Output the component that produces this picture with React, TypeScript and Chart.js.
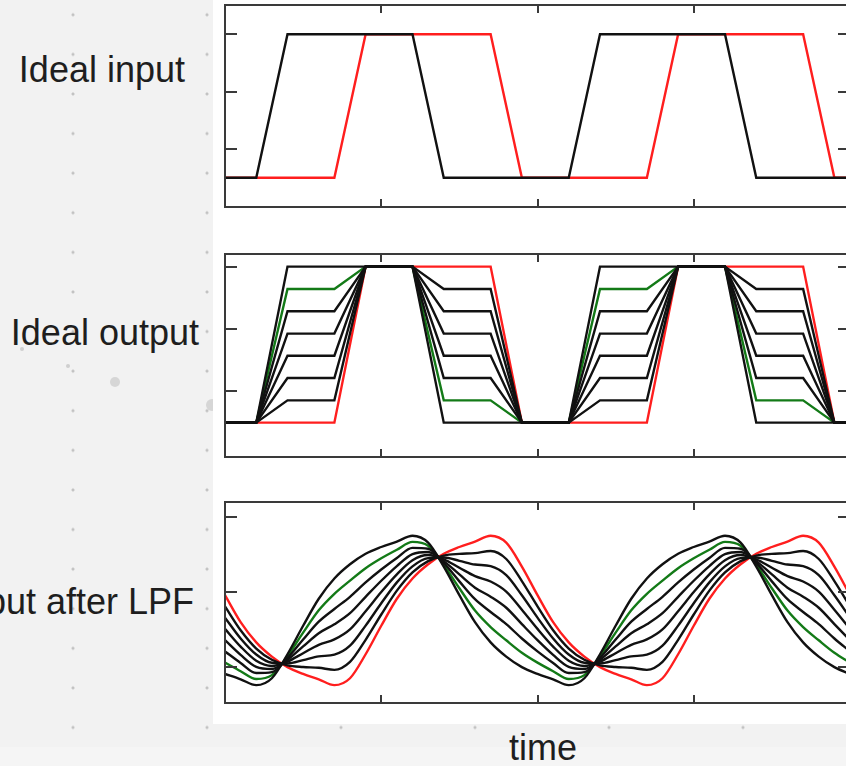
import React, { useEffect, useRef } from "react";
import { Chart, registerables } from "chart.js";
Chart.register(...registerables);

// ---------- shared axis ----------
const X_MIN = 0;
const X_MAX = 4;
const X_TICKS = [1, 2, 3];

// ---------- panel 1 : ideal input ----------
const inBlackT = [0, 0.2, 0.4, 1.2, 1.4, 2.2, 2.4, 3.2, 3.4, 4.0];
const inBlackV = [0, 0, 1, 1, 0, 0, 1, 1, 0, 0];
const inRedT = [0, 0.7, 0.9, 1.7, 1.9, 2.7, 2.9, 3.7, 3.9, 4.0];
const inRedV = [0, 0, 1, 1, 0, 0, 1, 1, 0, 0];
const P1_Y = [-0.204, 1.204];
const P1_TICKS = [0.2, 0.6, 1.0];

// ---------- panel 2 : ideal output ----------
const outT = [0, 0.2, 0.4, 0.7, 0.9, 1.2, 1.4, 1.7, 1.9, 2.2, 2.4, 2.7, 2.9, 3.2, 3.4, 3.7, 3.9, 4.0];
const out0 = [0, 0, 0, 0, 1, 1, 1, 1, 0, 0, 0, 0, 1, 1, 1, 1, 0, 0];
const out1 = [0, 0, 0.143, 0.143, 1, 1, 0.857, 0.857, 0, 0, 0.143, 0.143, 1, 1, 0.857, 0.857, 0, 0];
const out2 = [0, 0, 0.286, 0.286, 1, 1, 0.714, 0.714, 0, 0, 0.286, 0.286, 1, 1, 0.714, 0.714, 0, 0];
const out3 = [0, 0, 0.429, 0.429, 1, 1, 0.571, 0.571, 0, 0, 0.429, 0.429, 1, 1, 0.571, 0.571, 0, 0];
const out4 = [0, 0, 0.571, 0.571, 1, 1, 0.429, 0.429, 0, 0, 0.571, 0.571, 1, 1, 0.429, 0.429, 0, 0];
const out5 = [0, 0, 0.714, 0.714, 1, 1, 0.286, 0.286, 0, 0, 0.714, 0.714, 1, 1, 0.286, 0.286, 0, 0];
const out6 = [0, 0, 0.857, 0.857, 1, 1, 0.143, 0.143, 0, 0, 0.857, 0.857, 1, 1, 0.143, 0.143, 0, 0];
const out7 = [0, 0, 1, 1, 1, 1, 0, 0, 0, 0, 1, 1, 1, 1, 0, 0, 0, 0];
const P2_Y = [-0.22, 1.081];
const P2_TICKS = [0.2, 0.6, 1.0];

// ---------- panel 3 : output after LPF ----------
const lpfT = [
  0, 0.1, 0.2, 0.3, 0.4, 0.5, 0.6, 0.7, 0.8, 0.9, 1.0, 1.1, 1.2, 1.3, 1.4, 1.5, 1.6, 1.7, 1.8, 1.9,
  2.0, 2.1, 2.2, 2.3, 2.4, 2.5, 2.6, 2.7, 2.8, 2.9, 3.0, 3.1, 3.2, 3.3, 3.4, 3.5, 3.6, 3.7, 3.8, 3.9, 4.0,
];
const lpf0 = [
  0.479, 0.299, 0.164, 0.069, -0.001, -0.046, -0.082, -0.121, -0.075, 0.085, 0.275, 0.455, 0.59, 0.685, 0.755, 0.8, 0.836, 0.875, 0.829, 0.669,
  0.479, 0.299, 0.164, 0.069, -0.001, -0.046, -0.082, -0.121, -0.075, 0.085, 0.275, 0.455, 0.59, 0.685, 0.755, 0.8, 0.836, 0.875, 0.829, 0.669,
  0.479,
];
const lpf1 = [
  0.404, 0.245, 0.123, 0.048, 0.011, 0.0, -0.005, -0.019, 0.034, 0.181, 0.35, 0.509, 0.631, 0.706, 0.743, 0.754, 0.759, 0.773, 0.72, 0.573,
  0.404, 0.245, 0.123, 0.048, 0.011, 0.0, -0.005, -0.019, 0.034, 0.181, 0.35, 0.509, 0.631, 0.706, 0.743, 0.754, 0.759, 0.773, 0.72, 0.573,
  0.404,
];
const lpf2 = [
  0.329, 0.19, 0.083, 0.028, 0.024, 0.046, 0.071, 0.082, 0.142, 0.276, 0.425, 0.564, 0.671, 0.726, 0.73, 0.708, 0.683, 0.672, 0.612, 0.478,
  0.329, 0.19, 0.083, 0.028, 0.024, 0.046, 0.071, 0.082, 0.142, 0.276, 0.425, 0.564, 0.671, 0.726, 0.73, 0.708, 0.683, 0.672, 0.612, 0.478,
  0.329,
];
const lpf3 = [
  0.254, 0.136, 0.042, 0.007, 0.036, 0.092, 0.148, 0.184, 0.251, 0.372, 0.5, 0.618, 0.712, 0.747, 0.718, 0.662, 0.606, 0.57, 0.503, 0.382,
  0.254, 0.136, 0.042, 0.007, 0.036, 0.092, 0.148, 0.184, 0.251, 0.372, 0.5, 0.618, 0.712, 0.747, 0.718, 0.662, 0.606, 0.57, 0.503, 0.382,
  0.254,
];
const lpf4 = [
  0.179, 0.081, 0.001, -0.013, 0.048, 0.137, 0.225, 0.285, 0.359, 0.468, 0.575, 0.673, 0.753, 0.767, 0.706, 0.617, 0.529, 0.469, 0.395, 0.286,
  0.179, 0.081, 0.001, -0.013, 0.048, 0.137, 0.225, 0.285, 0.359, 0.468, 0.575, 0.673, 0.753, 0.767, 0.706, 0.617, 0.529, 0.469, 0.395, 0.286,
  0.179,
];
const lpf5 = [
  0.104, 0.027, -0.04, -0.034, 0.06, 0.183, 0.302, 0.387, 0.468, 0.564, 0.65, 0.727, 0.794, 0.788, 0.694, 0.571, 0.452, 0.367, 0.286, 0.19,
  0.104, 0.027, -0.04, -0.034, 0.06, 0.183, 0.302, 0.387, 0.468, 0.564, 0.65, 0.727, 0.794, 0.788, 0.694, 0.571, 0.452, 0.367, 0.286, 0.19,
  0.104,
];
const lpf6 = [
  0.029, -0.028, -0.08, -0.054, 0.073, 0.229, 0.378, 0.488, 0.576, 0.659, 0.725, 0.782, 0.834, 0.808, 0.681, 0.525, 0.376, 0.266, 0.178, 0.095,
  0.029, -0.028, -0.08, -0.054, 0.073, 0.229, 0.378, 0.488, 0.576, 0.659, 0.725, 0.782, 0.834, 0.808, 0.681, 0.525, 0.376, 0.266, 0.178, 0.095,
  0.029,
];
const lpf7 = [
  -0.046, -0.082, -0.121, -0.075, 0.085, 0.275, 0.455, 0.59, 0.685, 0.755, 0.8, 0.836, 0.875, 0.829, 0.669, 0.479, 0.299, 0.164, 0.069, -0.001,
  -0.046, -0.082, -0.121, -0.075, 0.085, 0.275, 0.455, 0.59, 0.685, 0.755, 0.8, 0.836, 0.875, 0.829, 0.669, 0.479, 0.299, 0.164, 0.069, -0.001,
  -0.046,
];
const P3_Y = [-0.24, 1.1];
const P3_TICKS = [0, 0.5, 1.0];

// ---------- labels ----------
const panelLabels = ["Ideal input", "Ideal output", "Output after LPF"];
const xLabel = "time";

const BLACK = "#111111";
const RED = "#ff1e1e";
const GREEN = "#137a17";

function ds(t: number[], v: number[], color: string, smooth = false) {
  return {
    data: t.map((x, i) => ({ x, y: v[i] })),
    borderColor: color,
    borderWidth: 2.4,
    pointRadius: 0,
    fill: false,
    tension: 0,
    cubicInterpolationMode: smooth ? ("monotone" as const) : ("default" as const),
  };
}

const framePlugin = {
  id: "frame",
  afterDraw(chart: any, _args: any, opts: any) {
    const { ctx, chartArea: a, scales } = chart;
    const xs = scales.x;
    const ys = scales.y;
    ctx.save();
    ctx.strokeStyle = "#3a3a3a";
    ctx.lineWidth = 2;
    ctx.strokeRect(a.left, a.top, a.right - a.left, a.bottom - a.top);
    ctx.beginPath();
    for (const t of X_TICKS) {
      const px = Math.round(xs.getPixelForValue(t));
      ctx.moveTo(px, a.top);
      ctx.lineTo(px, a.top + 8);
      ctx.moveTo(px, a.bottom);
      ctx.lineTo(px, a.bottom - 8);
    }
    for (const v of opts.yTicks as number[]) {
      const py = Math.round(ys.getPixelForValue(v));
      ctx.moveTo(a.left, py);
      ctx.lineTo(a.left + 12, py);
      ctx.moveTo(a.right, py);
      ctx.lineTo(a.right - 12, py);
    }
    ctx.stroke();
    ctx.restore();
  },
};

type PanelProps = {
  top: number;
  height: number;
  datasets: any[];
  yRange: number[];
  yTicks: number[];
};

const CANVAS_LEFT = 219;
const CANVAS_W = 637;

function Panel({ top, height, datasets, yRange, yTicks }: PanelProps) {
  const ref = useRef<HTMLCanvasElement>(null);
  useEffect(() => {
    const chart = new Chart(ref.current as HTMLCanvasElement, {
      type: "line",
      data: { datasets },
      options: {
        animation: false,
        responsive: false,
        maintainAspectRatio: false,
        devicePixelRatio: 1,
        layout: { padding: { left: 6, right: 6, top: 5, bottom: 5 } },
        plugins: {
          legend: { display: false },
          tooltip: { enabled: false },
          frame: { yTicks },
        } as any,
        scales: {
          x: { type: "linear", min: X_MIN, max: X_MAX, display: false },
          y: { type: "linear", min: yRange[0], max: yRange[1], display: false },
        },
      },
      plugins: [framePlugin as any],
    });
    return () => chart.destroy();
  }, []);
  return (
    <canvas
      ref={ref}
      width={CANVAS_W}
      height={height}
      style={{ position: "absolute", left: CANVAS_LEFT, top, width: CANVAS_W, height }}
    />
  );
}

const FONT = "'Liberation Sans', Arial, Helvetica, sans-serif";
const LABEL_SIZE = 36;

function Label({ text, right, baseline }: { text: string; right: number; baseline: number }) {
  return (
    <div
      style={{
        position: "absolute",
        right: 846 - right,
        top: baseline - 0.8465 * LABEL_SIZE,
        fontFamily: FONT,
        fontSize: LABEL_SIZE,
        lineHeight: 1,
        color: "#1e1e1e",
        whiteSpace: "nowrap",
      }}
    >
      {text}
    </div>
  );
}

function Blob({ x, y, r, c = "#d6d6d6" }: { x: number; y: number; r: number; c?: string }) {
  return (
    <div
      style={{
        position: "absolute",
        left: x - r,
        top: y - r,
        width: 2 * r,
        height: 2 * r,
        borderRadius: "50%",
        background: c,
      }}
    />
  );
}

export default function App() {
  const p1 = [ds(inBlackT, inBlackV, BLACK), ds(inRedT, inRedV, RED)];
  const p2 = [
    ds(outT, out1, BLACK),
    ds(outT, out2, BLACK),
    ds(outT, out3, BLACK),
    ds(outT, out4, BLACK),
    ds(outT, out5, BLACK),
    ds(outT, out7, BLACK),
    ds(outT, out6, GREEN),
    ds(outT, out0, RED),
  ];
  const p3 = [
    ds(lpfT, lpf1, BLACK, true),
    ds(lpfT, lpf2, BLACK, true),
    ds(lpfT, lpf3, BLACK, true),
    ds(lpfT, lpf4, BLACK, true),
    ds(lpfT, lpf5, BLACK, true),
    ds(lpfT, lpf7, BLACK, true),
    ds(lpfT, lpf6, GREEN, true),
    ds(lpfT, lpf0, RED, true),
  ];
  return (
    <div
      style={{
        position: "fixed",
        left: 0,
        top: 0,
        width: 846,
        height: 766,
        overflow: "hidden",
        backgroundColor: "#f2f2f2",
        backgroundImage: "radial-gradient(circle, #c2c2c2 1.1px, rgba(0,0,0,0) 1.9px)",
        backgroundSize: "134px 39.6px",
        backgroundPosition: "6px -5px",
      }}
    >
      <div style={{ position: "absolute", left: 0, top: 747, width: 846, height: 19, background: "#f5f5f5" }} />
      <Blob x={115} y={382} r={5} />
      <Blob x={212} y={405} r={6} />
      <Blob x={22} y={349} r={2} c="#cfcfcf" />
      <Blob x={68} y={366} r={2} c="#cfcfcf" />
      <div style={{ position: "absolute", left: 213, top: 0, width: 633, height: 724, background: "#ffffff" }} />
      <Panel top={0} height={212} datasets={p1} yRange={P1_Y} yTicks={P1_TICKS} />
      <Panel top={249} height={213} datasets={p2} yRange={P2_Y} yTicks={P2_TICKS} />
      <Panel top={497} height={211} datasets={p3} yRange={P3_Y} yTicks={P3_TICKS} />
      <Label text={panelLabels[0]} right={185} baseline={82} />
      <Label text={panelLabels[1]} right={199} baseline={345} />
      <Label text={panelLabels[2]} right={194} baseline={614} />
      <div
        style={{
          position: "absolute",
          left: 0,
          width: 1086,
          top: 760 - 0.8465 * LABEL_SIZE,
          textAlign: "center",
          fontFamily: FONT,
          fontSize: LABEL_SIZE,
          lineHeight: 1,
          color: "#1e1e1e",
        }}
      >
        {xLabel}
      </div>
    </div>
  );
}
